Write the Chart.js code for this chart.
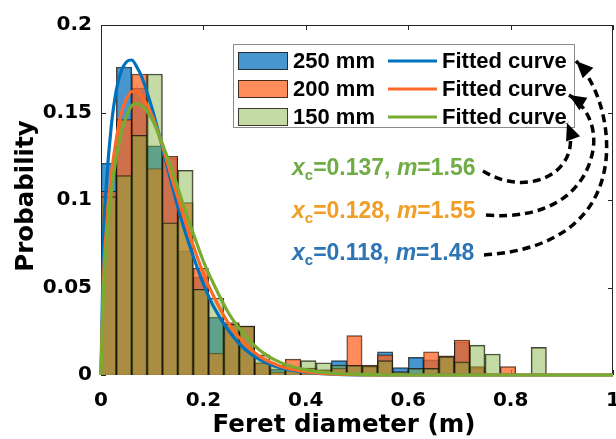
<!DOCTYPE html>
<html>
<head>
<meta charset="utf-8">
<script src="https://cdn.jsdelivr.net/npm/chart.js@4.4.1/dist/chart.umd.min.js"></script>
<style>
  html, body { margin: 0; padding: 0; background: #ffffff; }
  #wrap { width: 616px; height: 439px; position: relative; }
</style>
</head>
<body>
<div id="wrap"><canvas id="c" width="616" height="439"></canvas></div>
<script>
// Histogram bins (width 0.03 m), centre of each bin
const binCenters = [0.015, 0.045, 0.075, 0.105, 0.135, 0.165, 0.195, 0.225, 0.255, 0.285,
                    0.315, 0.345, 0.375, 0.405, 0.435, 0.465, 0.495, 0.525, 0.555, 0.585,
                    0.615, 0.645, 0.675, 0.705, 0.735, 0.765, 0.795, 0.825, 0.855, 0.885];

// Probability per bin for each block size
const prob250 = [0.121, 0.176, 0.164, 0.131, 0.124, 0.071, 0.056, 0.033, 0.029, 0.028,
                 0.007, 0.0034, 0.004, 0.004, 0.003, 0.0082, 0.0057, 0.0052, 0.0133, 0.0042,
                 0.0101, 0.0086, 0.0105, 0.019, 0.004, null, null, null, null, null];
const prob200 = [0.105, 0.146, 0.172, 0.118, 0.125, 0.0985, 0.061, 0.0124, 0.030, 0.028,
                 0.007, 0.0017, 0.0091, 0.004, 0.003, 0.0038, 0.0225, 0.0057, 0.0115, null,
                 null, 0.0133, 0.0109, 0.020, 0.0048, null, 0.0048, null, null, null];
const prob150 = [0.102, 0.114, 0.137, 0.172, 0.087, 0.117, 0.049, 0.044, 0.029, 0.028,
                 0.0115, 0.0057, 0.0038, 0.0082, 0.007, 0.0057, 0.0055, 0.0052, 0.0082, 0.0019,
                 0.0038, 0.0038, 0.0105, 0.0075, 0.0171, 0.012, null, null, 0.0158, null];

// Fitted curves sampled along the diameter axis
const fitX   = [0, 0.005, 0.01, 0.02, 0.03, 0.04, 0.05, 0.06, 0.07, 0.08, 0.10, 0.12, 0.14,
                0.16, 0.18, 0.20, 0.22, 0.25, 0.28, 0.31, 0.35, 0.40, 0.45, 0.50, 0.60, 0.80, 1.00];
const fit250 = [0, 0.078, 0.107, 0.142, 0.163, 0.174, 0.179, 0.180, 0.176, 0.170, 0.152, 0.130, 0.107,
                0.086, 0.068, 0.052, 0.039, 0.025, 0.015, 0.0088, 0.0041, 0.0015, 0.0005, 0.0001, 0, 0, 0];
const fit200 = [0, 0.056, 0.081, 0.114, 0.135, 0.150, 0.158, 0.162, 0.162, 0.159, 0.148, 0.131, 0.111,
                0.092, 0.074, 0.058, 0.045, 0.029, 0.018, 0.0106, 0.0050, 0.0018, 0.0006, 0.0002, 0, 0, 0];
const fit150 = [0, 0.050, 0.073, 0.104, 0.125, 0.139, 0.148, 0.154, 0.155, 0.154, 0.146, 0.132, 0.116,
                0.098, 0.081, 0.065, 0.052, 0.035, 0.023, 0.0142, 0.0072, 0.0029, 0.0010, 0.0004, 0, 0, 0];

// Axis ticks and labels
const xTicks = [0, 0.2, 0.4, 0.6, 0.8, 1];
const xTickLabels = ['0', '0.2', '0.4', '0.6', '0.8', '1'];
const yTicks = [0, 0.05, 0.1, 0.15, 0.2];
const yTickLabels = ['0', '0.05', '0.1', '0.15', '0.2'];

// Series names and fit parameters
const seriesLabels = ['250 mm', '200 mm', '150 mm'];
const fitLabel = 'Fitted curve';
const xcValues = ['0.118', '0.128', '0.137'];
const mValues  = ['1.48', '1.55', '1.56'];

const xTitle = 'Feret diameter (m)';
const yTitle = 'Probability';

// Styles
const barFill   = ['rgba(0,110,189,0.72)', 'rgba(255,100,32,0.74)', 'rgba(125,175,55,0.45)'];
const lineColor = ['rgb(0,114,189)', 'rgb(255,105,40)', 'rgb(119,172,48)'];
const noteColor = ['rgb(46,117,182)', 'rgb(240,158,40)', 'rgb(112,173,71)'];
const barEdge = 'rgba(25,20,15,0.8)';
const AXIS_FONT = '"DejaVu Sans", sans-serif';
const TEXT_FONT = '"Liberation Sans", Arial, sans-serif';

const toPoints = (xs, ys) => xs.map((x, i) => ({ x: x, y: ys[i] }));

function barSet(label, values, idx, order) {
  return {
    type: 'bar', label: label, data: toPoints(binCenters, values),
    backgroundColor: barFill[idx], borderColor: barEdge, borderWidth: 1,
    barPercentage: 1, categoryPercentage: 1, grouped: false, order: order
  };
}
function lineSet(values, idx, order) {
  return {
    type: 'line', label: fitLabel, data: toPoints(fitX, values),
    borderColor: lineColor[idx], borderWidth: 3.2, pointRadius: 0, fill: false,
    cubicInterpolationMode: 'monotone', clip: false, order: order
  };
}

// Axes box with inward tick marks, plus the axis titles
const axesFrame = {
  id: 'axesFrame',
  beforeDatasetsDraw(chart) {
    const { ctx, chartArea: a, scales: { x, y } } = chart;
    ctx.save();
    ctx.strokeStyle = '#262626';
    ctx.lineWidth = 1;
    ctx.strokeRect(a.left + 0.5, a.top + 0.5, a.right - a.left - 1, a.bottom - a.top - 1);
    ctx.beginPath();
    xTicks.forEach(v => {
      const px = Math.round(x.getPixelForValue(v)) + 0.5;
      ctx.moveTo(px, a.bottom); ctx.lineTo(px, a.bottom - 5);
      ctx.moveTo(px, a.top);    ctx.lineTo(px, a.top + 5);
    });
    yTicks.forEach(v => {
      const py = Math.round(y.getPixelForValue(v)) + 0.5;
      ctx.moveTo(a.left, py);  ctx.lineTo(a.left + 5, py);
      ctx.moveTo(a.right, py); ctx.lineTo(a.right - 5, py);
    });
    ctx.stroke();

    ctx.fillStyle = '#000';
    ctx.font = 'bold 24.5px ' + AXIS_FONT;
    ctx.textAlign = 'center';
    ctx.textBaseline = 'alphabetic';
    ctx.fillText(xTitle, 344, 432);
    ctx.translate(33, 196);
    ctx.rotate(-Math.PI / 2);
    ctx.fillText(yTitle, 0, 0);
    ctx.restore();
  }
};

// Legend box (histogram patches and fitted-curve samples)
const legendBox = {
  id: 'legendBox',
  afterDatasetsDraw(chart) {
    const ctx = chart.ctx;
    const L = { left: 233, top: 44, right: 574, bottom: 127 };
    const rows = [61, 89, 117];
    ctx.save();
    ctx.fillStyle = '#fff';
    ctx.fillRect(L.left, L.top, L.right - L.left, L.bottom - L.top);
    ctx.strokeStyle = '#8a8a8a';
    ctx.lineWidth = 1;
    ctx.strokeRect(L.left + 0.5, L.top + 0.5, L.right - L.left, L.bottom - L.top);
    ctx.font = 'bold 22px ' + TEXT_FONT;
    ctx.textBaseline = 'middle';
    ctx.textAlign = 'left';
    rows.forEach((cy, i) => {
      ctx.fillStyle = barFill[i];
      ctx.fillRect(238, cy - 9, 50, 18);
      ctx.strokeStyle = barEdge;
      ctx.strokeRect(238.5, cy - 8.5, 49, 17);
      ctx.fillStyle = '#000';
      ctx.fillText(seriesLabels[i], 293, cy + 1);
      ctx.strokeStyle = lineColor[i];
      ctx.lineWidth = 3;
      ctx.beginPath(); ctx.moveTo(388, cy); ctx.lineTo(437, cy); ctx.stroke();
      ctx.lineWidth = 1;
      ctx.fillStyle = '#000';
      ctx.fillText(fitLabel, 442, cy + 1);
    });
    ctx.restore();
  }
};

// Fit-parameter notes with dashed arrows pointing at the legend entries
function drawParams(ctx, x0, yb, color, xc, m) {
  ctx.fillStyle = color;
  let x = x0;
  const seg = (txt, font, dy) => {
    ctx.font = font;
    ctx.fillText(txt, x, yb + (dy || 0));
    x += ctx.measureText(txt).width;
  };
  seg('x', 'italic bold 23px ' + TEXT_FONT);
  seg('c', 'bold 15px ' + TEXT_FONT, 5);
  seg('=' + xc + ', ', 'bold 23px ' + TEXT_FONT);
  seg('m', 'italic bold 23px ' + TEXT_FONT);
  seg('=' + m, 'bold 23px ' + TEXT_FONT);
  return x;
}
function arrowHead(ctx, tip, from) {
  const ang = Math.atan2(tip[1] - from[1], tip[0] - from[0]);
  const len = 17, hw = 7.5;
  const bx = tip[0] - len * Math.cos(ang), by = tip[1] - len * Math.sin(ang);
  ctx.beginPath();
  ctx.moveTo(tip[0], tip[1]);
  ctx.lineTo(bx - hw * Math.sin(ang), by + hw * Math.cos(ang));
  ctx.lineTo(bx + hw * Math.sin(ang), by - hw * Math.cos(ang));
  ctx.closePath();
  ctx.fill();
}
const paramNotes = {
  id: 'paramNotes',
  afterDraw(chart) {
    const ctx = chart.ctx;
    ctx.save();
    ctx.textAlign = 'left';
    ctx.textBaseline = 'alphabetic';
    // listed top to bottom: 150 mm, 200 mm, 250 mm
    const notes = [
      { i: 2, yb: 175, path: [[483, 171], [[530, 200], [585, 170], [567, 123]]] },
      { i: 1, yb: 218, path: [[486, 215], [[545, 220], [585, 195], [593, 150]], [[597, 125], [585, 105], [569, 95]]] },
      { i: 0, yb: 260, path: [[484, 255], [[560, 250], [600, 215], [606, 160]], [[610, 120], [595, 80], [576, 61]]] }
    ];
    notes.forEach(n => {
      drawParams(ctx, 292, n.yb, noteColor[n.i], xcValues[n.i], mValues[n.i]);
      ctx.strokeStyle = '#000';
      ctx.fillStyle = '#000';
      ctx.lineWidth = 3.5;
      ctx.setLineDash([8, 5]);
      ctx.beginPath();
      ctx.moveTo(n.path[0][0], n.path[0][1]);
      for (let k = 1; k < n.path.length; k++) {
        const c = n.path[k];
        ctx.bezierCurveTo(c[0][0], c[0][1], c[1][0], c[1][1], c[2][0], c[2][1]);
      }
      ctx.stroke();
      ctx.setLineDash([]);
      const last = n.path[n.path.length - 1];
      arrowHead(ctx, last[2], last[1]);
    });
    ctx.restore();
  }
};

Chart.defaults.font.family = AXIS_FONT;
Chart.defaults.color = '#000';

new Chart(document.getElementById('c'), {
  type: 'bar',
  data: {
    datasets: [
      lineSet(fit150, 2, 0),
      lineSet(fit200, 1, 1),
      lineSet(fit250, 0, 2),
      barSet(seriesLabels[2], prob150, 2, 3),
      barSet(seriesLabels[1], prob200, 1, 4),
      barSet(seriesLabels[0], prob250, 0, 5)
    ]
  },
  options: {
    responsive: false,
    animation: false,
    devicePixelRatio: 1,
    layout: { padding: { top: 25, right: 3, bottom: 0, left: 0 } },
    plugins: { legend: { display: false }, tooltip: { enabled: false } },
    scales: {
      x: {
        type: 'linear', min: 0, max: 1, offset: false,
        grid: { display: false, drawTicks: false },
        border: { display: false },
        afterBuildTicks: s => { s.ticks = xTicks.map(v => ({ value: v })); },
        afterFit: s => { s.height = 64; s.paddingLeft = 0; s.paddingRight = 0; },
        ticks: {
          autoSkip: false, maxRotation: 0, padding: 14, color: '#000',
          font: { size: 20, weight: 'bold', family: AXIS_FONT },
          callback: (v, i) => xTickLabels[i]
        }
      },
      y: {
        type: 'linear', min: 0, max: 0.2,
        grid: { display: false, drawTicks: false },
        border: { display: false },
        afterBuildTicks: s => { s.ticks = yTicks.map(v => ({ value: v })); },
        afterFit: s => { s.width = 101; s.paddingTop = 0; s.paddingBottom = 0; },
        ticks: {
          padding: 9, color: '#000',
          font: { size: 20, weight: 'bold', family: AXIS_FONT },
          callback: (v, i) => yTickLabels[i]
        }
      }
    }
  },
  plugins: [axesFrame, legendBox, paramNotes]
});
</script>
</body>
</html>
